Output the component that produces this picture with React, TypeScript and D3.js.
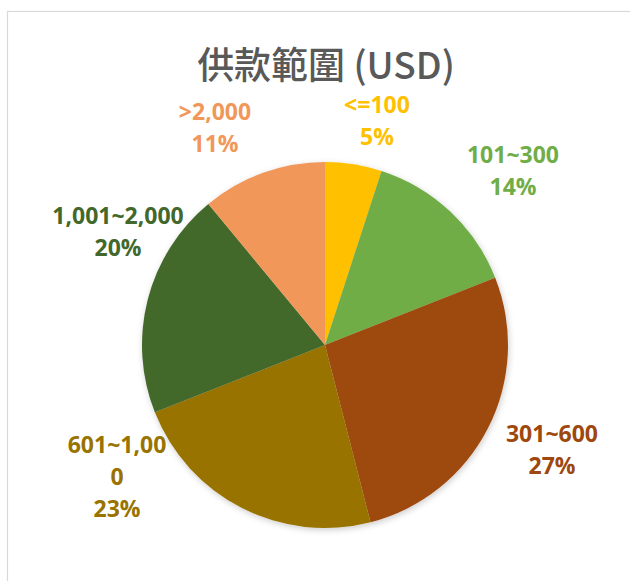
import { useEffect, useRef } from "react";
import * as d3 from "d3";

const title = "供款範圍 (USD)";
const categories = ["<=100", "101~300", "301~600", "601~1,000", "1,001~2,000", ">2,000"];
const shares = [5, 14, 27, 23, 20, 11];
const colors = ["#FFC000", "#70AD47", "#9E480E", "#997300", "#43682B", "#F1975A"];
// label lines as Excel wrapped them
const labelLines = [
    ["<=100", "5%"],
    ["101~300", "14%"],
    ["301~600", "27%"],
    ["601~1,00", "0", "23%"],
    ["1,001~2,000", "20%"],
    [">2,000", "11%"],
];
// label centre (first line baseline) as offset from pie centre
const labelPos = [
    [52, -232],
    [188, -182],
    [227, 97],
    [-208, 108],
    [-207, -121],
    [-110, -225],
];

const App = () => {
    const container = useRef<SVGSVGElement>(null);

    useEffect(() => {
        const svgEl = container.current;
        if (!svgEl) return;
        svgEl.innerHTML = "";

        const width = 630, height = 581;
        const cx = 325, cy = 345, radius = 183;

        const svg = d3.select(svgEl);

        const defs = svg.append("defs");
        const f = defs.append("filter").attr("id", "shadow")
            .attr("x", "-10%").attr("y", "-10%").attr("width", "120%").attr("height", "120%");
        f.append("feDropShadow").attr("dx", 1).attr("dy", 2).attr("stdDeviation", 3)
            .attr("flood-color", "#000").attr("flood-opacity", 0.2);

        svg.append("rect")
            .attr("x", 0).attr("y", 0).attr("width", width).attr("height", height)
            .attr("fill", "#fff");

        svg.append("rect")
            .attr("x", 7.5).attr("y", 11.5)
            .attr("width", width + 20).attr("height", height + 20)
            .attr("fill", "none")
            .attr("stroke", "#d9d9d9")
            .attr("stroke-width", 1.2);

        svg.append("text")
            .attr("x", cx + 1).attr("y", 79)
            .attr("text-anchor", "middle")
            .style("font-family", "'Noto Sans CJK TC', 'Noto Sans', sans-serif")
            .style("font-size", "37px")
            .style("font-weight", 500)
            .style("fill", "#595959")
            .text(title);

        const data = categories.map((c, i) => ({ name: c, value: shares[i], i }));

        const pie = d3.pie<any>()
            .value((d) => d.value)
            .sort(null)
            .startAngle(0)
            .endAngle(2 * Math.PI);

        const arc = d3.arc<any>().innerRadius(0).outerRadius(radius);

        const g = svg.append("g")
            .attr("transform", `translate(${cx},${cy})`);

        g.append("g")
            .attr("filter", "url(#shadow)")
            .selectAll("path")
            .data(pie(data))
            .join("path")
            .attr("d", arc)
            .style("fill", (d) => colors[d.data.i]);

        const labels = g.selectAll("text.lbl")
            .data(data)
            .join("text")
            .attr("class", "lbl")
            .attr("text-anchor", "middle")
            .style("font-family", "'Open Sans', sans-serif")
            .style("font-size", "23px")
            .style("font-weight", 700)
            .style("fill", (d) => colors[d.i]);

        labels.each(function (d) {
            const t = d3.select(this);
            const [lx, ly] = labelPos[d.i];
            labelLines[d.i].forEach((line, k) => {
                t.append("tspan")
                    .attr("x", lx)
                    .attr("y", ly + k * 32)
                    .text(line);
            });
        });
    }, []);

    return (
        <svg
            ref={container}
            width={630}
            height={581}
            style={{ position: "absolute", left: 0, top: 0 }}
        ></svg>
    );
};

export default App;
